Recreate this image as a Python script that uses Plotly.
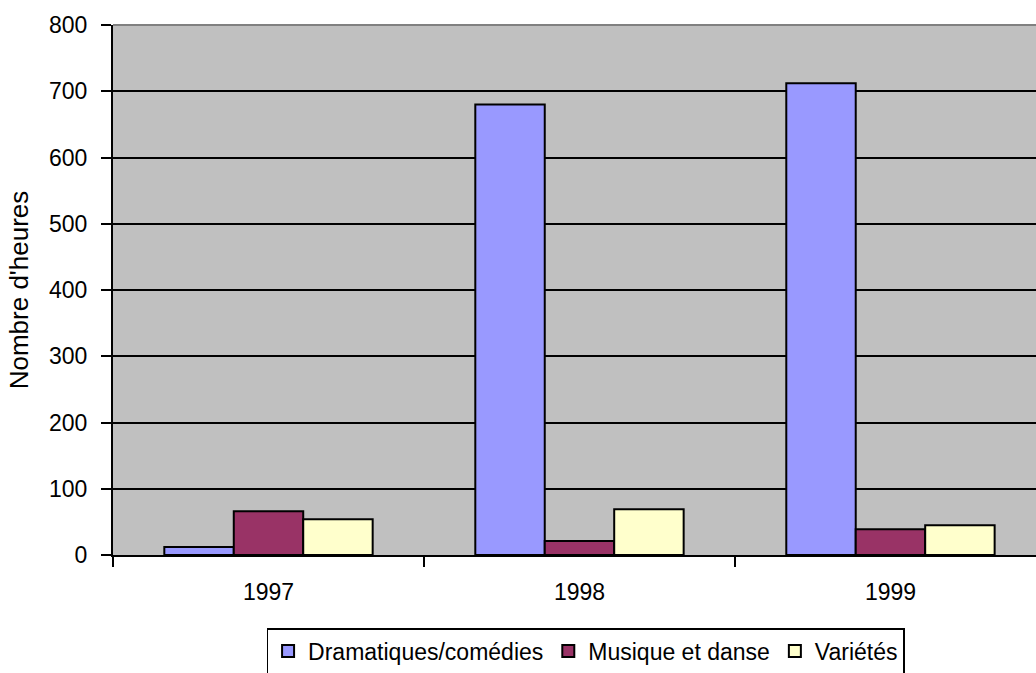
import plotly.graph_objects as go

years = ["1997", "1998", "1999"]
dramatiques = [12, 680, 712]
musique = [66, 21, 39]
varietes = [54, 69, 45]

series_names = ["Dramatiques/comédies", "Musique et danse", "Variétés"]
series_colors = ["#9999FF", "#993366", "#FFFFCC"]
y_ticks = [0, 100, 200, 300, 400, 500, 600, 700, 800]

FONT = "Liberation Sans, Arial, sans-serif"

fig = go.Figure()
for name, vals, col in zip(series_names, [dramatiques, musique, varietes], series_colors):
    fig.add_trace(go.Bar(
        x=years, y=vals, name=name,
        marker=dict(color=col, line=dict(color="black", width=2)),
    ))

fig.update_layout(
    width=1036, height=673,
    margin=dict(l=113, r=0, t=25, b=118, autoexpand=False),
    paper_bgcolor="white",
    plot_bgcolor="#C0C0C0",
    barmode="group",
    bargap=0.33,
    bargroupgap=0,
    font=dict(family=FONT, size=23, color="black"),
    showlegend=True,
    legend=dict(
        orientation="h",
        x=0.512, xanchor="center",
        y=-0.138, yanchor="top",
        bordercolor="black", borderwidth=1.5,
        bgcolor="white",
        font=dict(family=FONT, size=23, color="black"),
        itemwidth=30,
        tracegroupgap=0,
    ),
    xaxis=dict(
        type="category",
        range=[-0.5, 2.468],
        showline=True, linecolor="black", linewidth=2,
        ticks="outside", ticklen=10, tickwidth=2, tickcolor="black",
        tickson="boundaries",
        showgrid=False,
        ticklabelstandoff=15,
        tickfont=dict(family=FONT, size=23),
    ),
    yaxis=dict(
        range=[0, 800],
        tickvals=y_ticks,
        showline=True, linecolor="black", linewidth=2,
        ticks="outside", ticklen=10, tickwidth=2, tickcolor="black",
        showgrid=True, gridcolor="black", gridwidth=2,
        zeroline=False,
        ticklabelstandoff=9,
        tickfont=dict(family=FONT, size=23),
        title=dict(text="Nombre d'heures", standoff=13,
                   font=dict(family=FONT, size=26)),
    ),
    shapes=[dict(type="line", xref="paper", yref="paper", x0=0, x1=1, y0=1, y1=1,
                 line=dict(color="#808080", width=2), layer="above")],
)

fig.write_html("out.html", config={"displayModeBar": False},
               post_script="document.body.style.margin='0';")
